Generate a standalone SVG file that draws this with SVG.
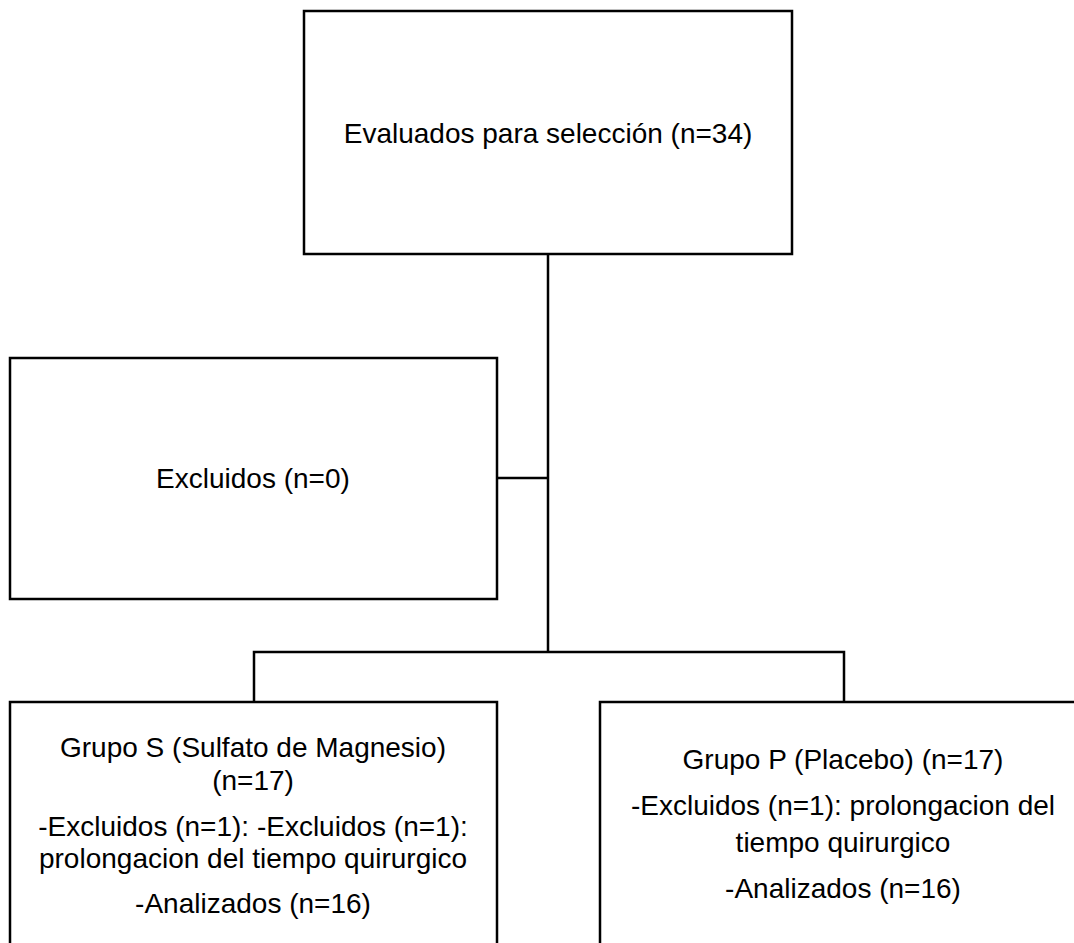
<svg xmlns="http://www.w3.org/2000/svg" width="1074" height="943" viewBox="0 0 1074 943">
<style>
.box{fill:#fff;stroke:#000;stroke-width:2.5}
.ln{fill:none;stroke:#000;stroke-width:2.5}
text{font-family:"Liberation Sans",Arial,sans-serif;font-size:28px;fill:#000;text-anchor:middle}
</style>
<rect width="1074" height="943" fill="#fff"/>
<g id="connectors">
<path class="ln" d="M548 254 V652"/>
<path class="ln" d="M497 478 H548"/>
<path class="ln" d="M254 702 V652 H844 V702"/>
</g>
<g id="n1">
<rect class="box" x="304" y="11" width="488" height="243"/>
<text x="548" y="143">Evaluados para selección (n=34)</text>
</g>
<g id="n2">
<rect class="box" x="10" y="358" width="487" height="241"/>
<text x="253" y="488">Excluidos (n=0)</text>
</g>
<g id="n3">
<rect class="box" x="10" y="702" width="487" height="260"/>
<text x="253" y="757">Grupo S (Sulfato de Magnesio)</text>
<text x="253" y="790">(n=17)</text>
<text x="253" y="836">-Excluidos (n=1): -Excluidos (n=1):</text>
<text x="253" y="868">prolongacion del tiempo quirurgico</text>
<text x="253" y="913">-Analizados (n=16)</text>
</g>
<g id="n4">
<rect class="box" x="600" y="702" width="486" height="260"/>
<text x="843" y="769">Grupo P (Placebo) (n=17)</text>
<text x="843" y="815">-Excluidos (n=1): prolongacion del</text>
<text x="843" y="852">tiempo quirurgico</text>
<text x="843" y="898">-Analizados (n=16)</text>
</g>
</svg>
